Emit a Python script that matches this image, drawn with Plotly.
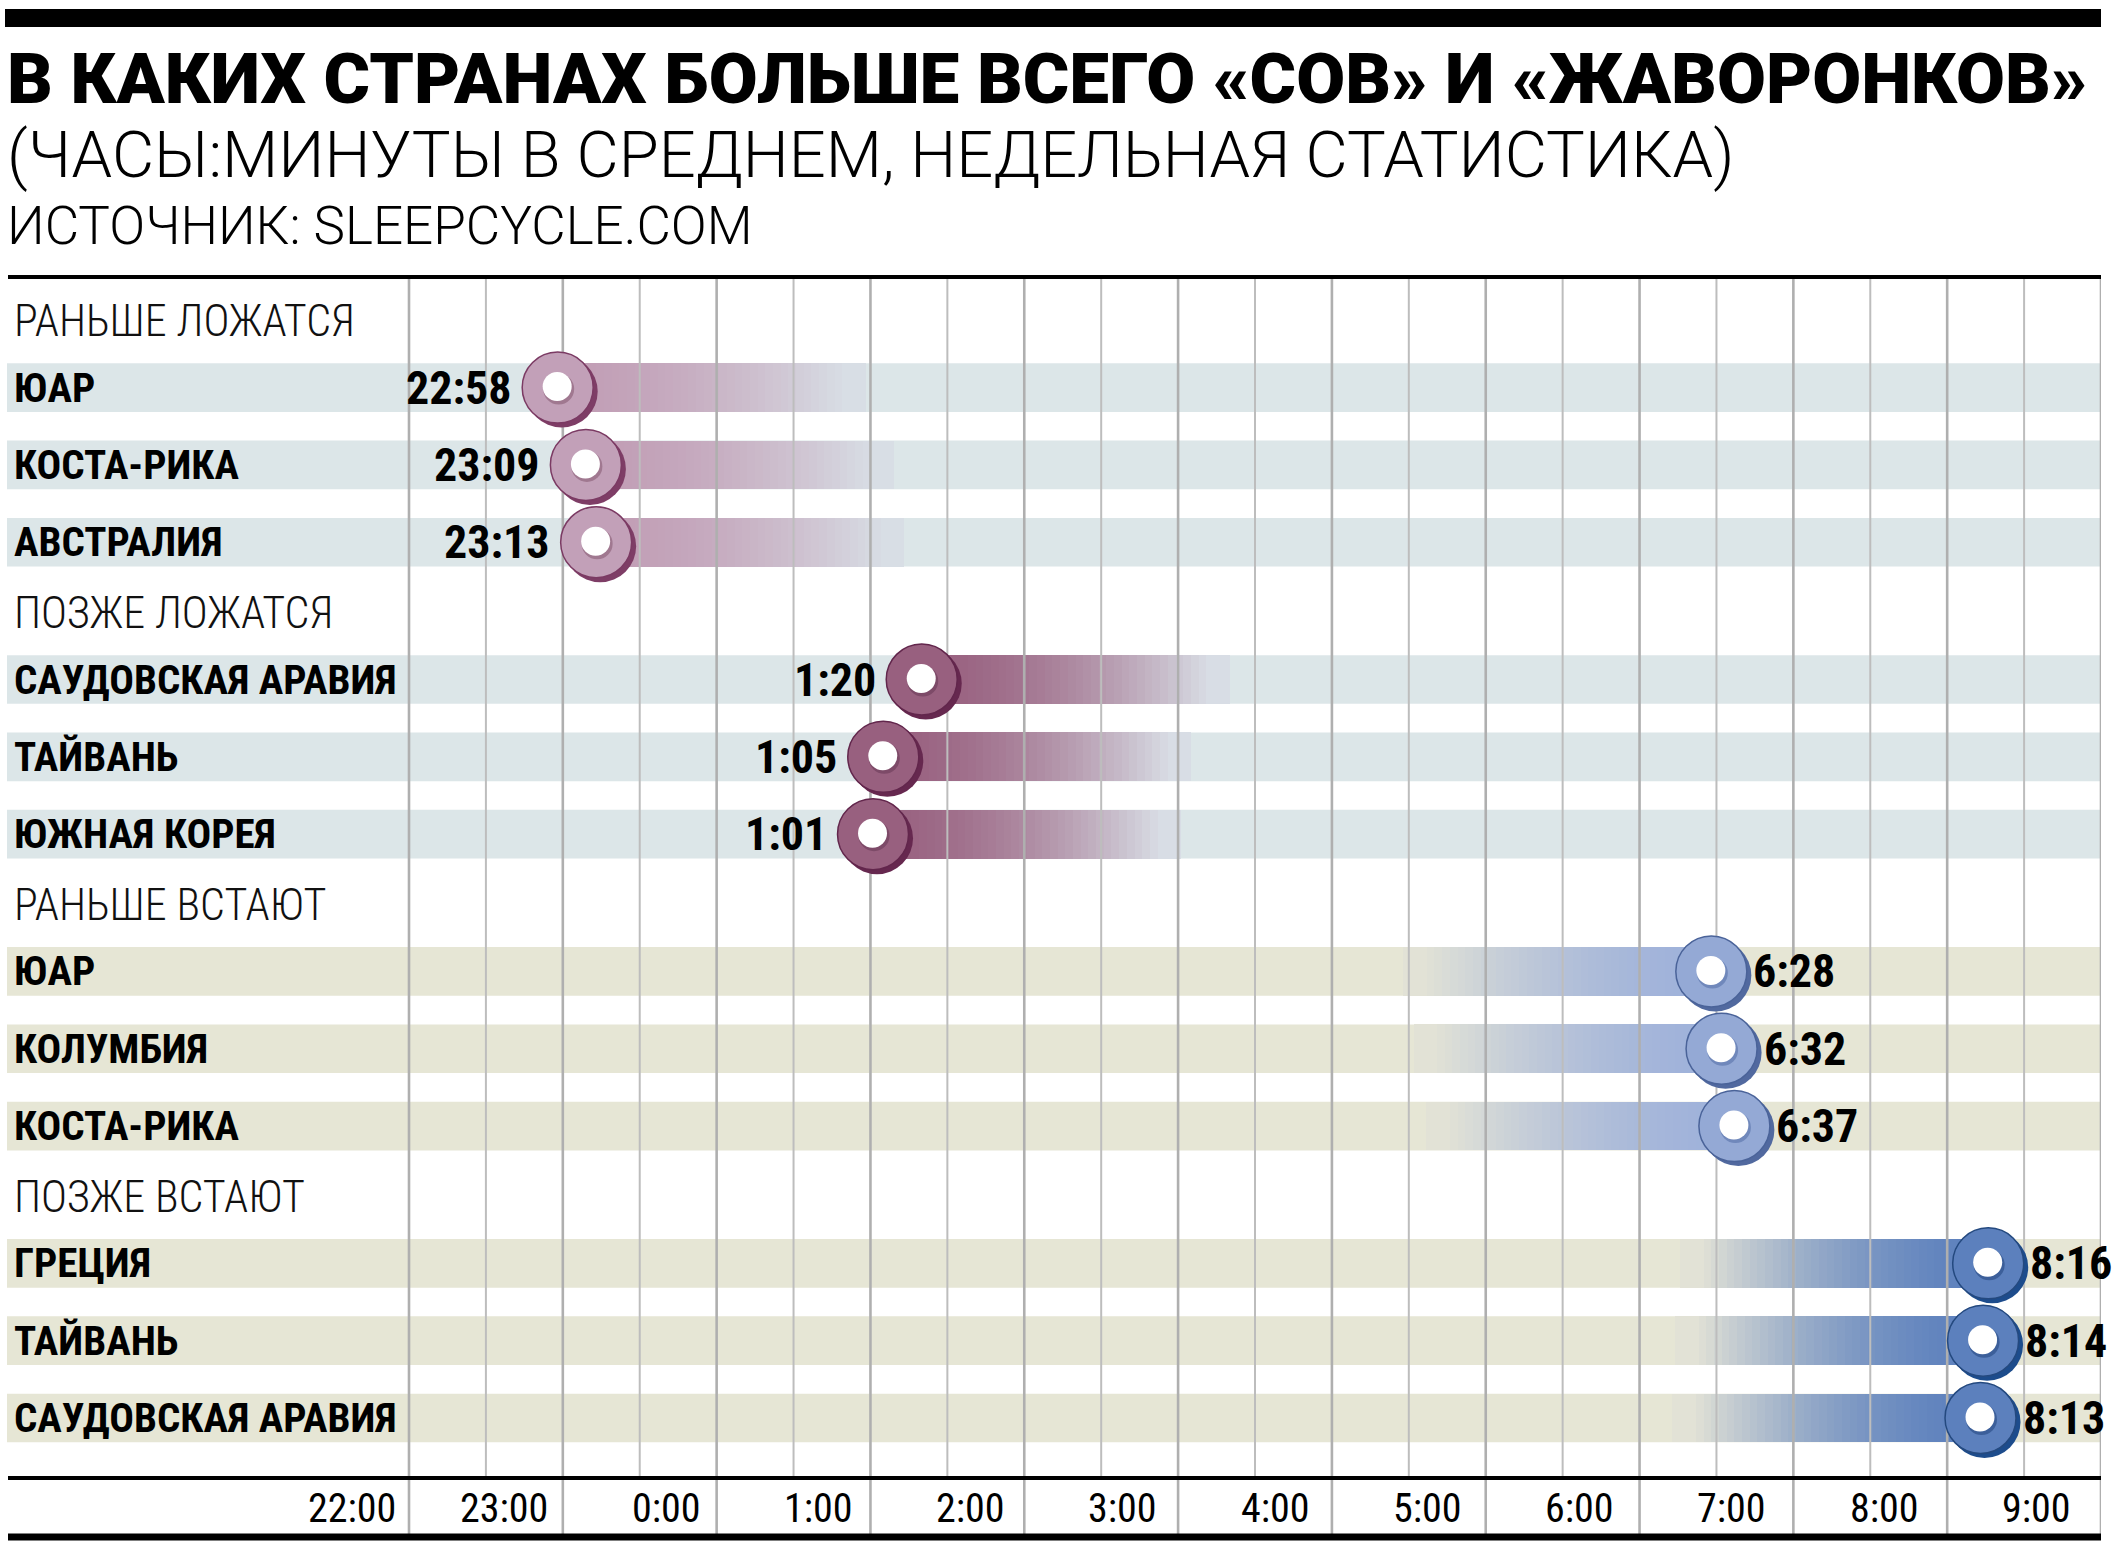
import plotly.graph_objects as go

# ---------------- DATA ----------------
group_titles = ["РАНЬШЕ ЛОЖАТСЯ", "ПОЗЖЕ ЛОЖАТСЯ", "РАНЬШЕ ВСТАЮТ", "ПОЗЖЕ ВСТАЮТ"]
early_bed_countries = ["ЮАР", "КОСТА-РИКА", "АВСТРАЛИЯ"]
early_bed_times = ["22:58", "23:09", "23:13"]
late_bed_countries = ["САУДОВСКАЯ АРАВИЯ", "ТАЙВАНЬ", "ЮЖНАЯ КОРЕЯ"]
late_bed_times = ["1:20", "1:05", "1:01"]
early_wake_countries = ["ЮАР", "КОЛУМБИЯ", "КОСТА-РИКА"]
early_wake_times = ["6:28", "6:32", "6:37"]
late_wake_countries = ["ГРЕЦИЯ", "ТАЙВАНЬ", "САУДОВСКАЯ АРАВИЯ"]
late_wake_times = ["8:16", "8:14", "8:13"]
hour_ticks = list(range(22, 34))          # 22:00 ... 9:00 (next day)
tick_labels = [f"{h % 24}:00" for h in hour_ticks]

title = "В КАКИХ СТРАНАХ БОЛЬШЕ ВСЕГО «СОВ» И «ЖАВОРОНКОВ»"
subtitle = "(ЧАСЫ:МИНУТЫ В СРЕДНЕМ, НЕДЕЛЬНАЯ СТАТИСТИКА)"
source = "ИСТОЧНИК: SLEEPCYCLE.COM"

# ---------------- STYLE ----------------
W, H = 2116, 1552
PL, PR, PT, PB = 7, 2101, 277, 1478
X22_PX = 409
PX_PER_H = (PR - X22_PX) / 11.0
PX_PER_U = 77.33
Y_MAX = (PB - PT) / PX_PER_U

FC = "Roboto Condensed, Open Sans Condensed, sans-serif"
FW = "Roboto, Open Sans, sans-serif"

groups = [
    dict(countries=early_bed_countries, times=early_bed_times, kind="bed",
         band="#dce6e8", fill="#c2a0b8", bar=(193, 157, 181), end=(216, 222, 229),
         edge="#7b3a63", shadow="#7e3d66", hole="#a07890"),
    dict(countries=late_bed_countries, times=late_bed_times, kind="bed",
         band="#dce6e8", fill="#98607f", bar=(152, 96, 127), end=(216, 221, 229),
         edge="#62264c", shadow="#66284f", hole="#7d4a68"),
    dict(countries=early_wake_countries, times=early_wake_times, kind="wake",
         band="#e6e6d5", fill="#94a9d5", bar=(158, 177, 218), end=(226, 226, 214),
         edge="#4a6399", shadow="#51699f", hole="#7088bb"),
    dict(countries=late_wake_countries, times=late_wake_times, kind="wake",
         band="#e6e6d5", fill="#5c80bd", bar=(92, 128, 189), end=(226, 226, 214),
         edge="#24497f", shadow="#1d4c8c", hole="#3c5f9a"),
]


def to_hours(s):
    h, m = s.split(":")
    h, m = int(h), int(m)
    return h + m / 60.0 + (24 if h < 12 else 0)


def paper_y(px):
    return (PB - px) / (PB - PT)


def paper_x(px):
    return (px - PL) / (PR - PL)


fig = go.Figure()
shapes = []
annotations = []

rows = []
for g, grp in enumerate(groups):
    y0 = 1.43 + g * 3.775
    annotations.append(dict(x=paper_x(12), xref="paper", y=y0 - 0.86, yref="y", text=group_titles[g],
                            showarrow=False, xanchor="left", yanchor="middle",
                            font=dict(family=FC, size=44, color="#111", weight=300)))
    for j, (c, t) in enumerate(zip(grp["countries"], grp["times"])):
        y = y0 + j
        rows.append((y, to_hours(t), g, c, t))
        shapes.append(dict(type="rect", xref="paper", yref="y", x0=0, x1=1, y0=y - 0.315, y1=y + 0.315,
                           fillcolor=grp["band"], line=dict(width=0), layer="below"))

# gradient bars (opaque colour steps)
N = 40
L = 2.0
seg = L / N
for k in range(N):
    t = k / (N - 1)
    f = min(1.0, 0.15 * t + 0.95 * t ** 1.8)
    ys, xs, bases, cols = [], [], [], []
    for (y, v, g, c, tt) in rows:
        grp = groups[g]
        ys.append(y)
        xs.append(seg * 1.05)
        bases.append(v + k * seg if grp["kind"] == "bed" else v - (k + 1.05) * seg)
        col = [round(a + (b - a) * f) for a, b in zip(grp["bar"], grp["end"])]
        cols.append(f"rgb({col[0]},{col[1]},{col[2]})")
    fig.add_trace(go.Bar(orientation="h", y=ys, x=xs, base=bases, width=0.63,
                         marker=dict(color=cols, line=dict(width=0)), hoverinfo="skip", showlegend=False))

# grid lines (above bars, below markers)
for major, width, color in [(False, 2, "#bdbdbd"), (True, 2.6, "#afafaf")]:
    gx, gy = [], []
    h = 22.0
    while h <= 33.0001:
        is_major = abs(h - round(h)) < 1e-6
        if is_major == major:
            gx += [h, h, None]
            gy += [0, Y_MAX, None]
        h += 0.5
    fig.add_trace(go.Scatter(x=gx, y=gy, mode="lines", line=dict(color=color, width=width),
                             hoverinfo="skip", showlegend=False, cliponaxis=False))

# markers (disc with shadow and hole)
dxp = 4 / PX_PER_H
dyp = 4 / PX_PER_U
for g, grp in enumerate(groups):
    gr = [r for r in rows if r[2] == g]
    xs = [r[1] for r in gr]
    ys = [r[0] for r in gr]
    fig.add_trace(go.Scatter(x=[x + dxp for x in xs], y=[y + dyp for y in ys], mode="markers",
                             marker=dict(size=72, color=grp["shadow"], line=dict(width=0)),
                             hoverinfo="skip", showlegend=False))
    fig.add_trace(go.Scatter(x=xs, y=ys, mode="markers",
                             marker=dict(size=71, color=grp["fill"], line=dict(width=1.5, color=grp["edge"])),
                             hoverinfo="skip", showlegend=False))
    fig.add_trace(go.Scatter(x=[x + 1 / PX_PER_H for x in xs], y=[y + 1.5 / PX_PER_U for y in ys], mode="markers",
                             marker=dict(size=31, color=grp["hole"], line=dict(width=0)),
                             hoverinfo="skip", showlegend=False))
    fig.add_trace(go.Scatter(x=[x - 0.5 / PX_PER_H for x in xs], y=[y - 1 / PX_PER_U for y in ys], mode="markers",
                             marker=dict(size=29, color="white", line=dict(width=0)),
                             hoverinfo="skip", showlegend=False))

# value labels and country labels
for (y, v, g, c, t) in rows:
    bed = groups[g]["kind"] == "bed"
    annotations.append(dict(x=v, xref="x", y=y, yref="y", text=f"<b>{t}</b>", showarrow=False,
                            xanchor="right" if bed else "left", xshift=-44 if bed else 40, yanchor="middle",
                            font=dict(family=FC, size=46, color="#000")))
    annotations.append(dict(x=paper_x(12), xref="paper", y=y, yref="y", text=f"<b>{c}</b>", showarrow=False,
                            xanchor="left", yanchor="middle", font=dict(family=FC, size=41, color="#000")))

# tick labels (below the axis line, left of each hour line)
for i, (h, lab) in enumerate(zip(hour_ticks, tick_labels)):
    annotations.append(dict(x=h, xref="x", y=paper_y(1508), yref="paper", text=lab, showarrow=False,
                            xanchor="right", xshift=-(11 + 17 * i / 11), yanchor="middle",
                            font=dict(family=FC, size=40, color="#000")))
    shapes.append(dict(type="line", xref="x", yref="paper", x0=h, x1=h, y0=paper_y(1536), y1=0,
                       line=dict(color="#afafaf", width=2.6), layer="below"))

# frame lines
shapes += [
    dict(type="rect", xref="paper", yref="paper", x0=paper_x(5), x1=1, y0=paper_y(27), y1=paper_y(9),
         fillcolor="#000", line=dict(width=0)),
    dict(type="line", xref="paper", yref="paper", x0=paper_x(8), x1=1, y0=1, y1=1, line=dict(color="#000", width=4)),
    dict(type="line", xref="paper", yref="paper", x0=paper_x(8), x1=1, y0=0, y1=0, line=dict(color="#000", width=4)),
    dict(type="line", xref="paper", yref="paper", x0=paper_x(8), x1=1, y0=paper_y(1537), y1=paper_y(1537),
         line=dict(color="#000", width=7)),
]

# titles
annotations += [
    dict(x=paper_x(6), xref="paper", y=paper_y(79), yref="paper", text=title, showarrow=False,
         xanchor="left", yanchor="middle", borderpad=0, font=dict(family=FW, size=71, color="#000", weight=900)),
    dict(x=paper_x(6), xref="paper", y=paper_y(155), yref="paper", text=subtitle, showarrow=False,
         xanchor="left", yanchor="middle", borderpad=0, font=dict(family=FW, size=65, color="#000", weight=300)),
    dict(x=paper_x(6), xref="paper", y=paper_y(226), yref="paper", text=source, showarrow=False,
         xanchor="left", yanchor="middle", borderpad=0, font=dict(family=FW, size=53, color="#000", weight=300)),
]

fig.update_layout(
    width=W, height=H, margin=dict(l=PL, r=W - PR, t=PT, b=H - PB),
    paper_bgcolor="white", plot_bgcolor="white", barmode="overlay", bargap=0,
    xaxis=dict(range=[22 - (X22_PX - PL) / PX_PER_H, 33], showgrid=False, zeroline=False,
               showticklabels=False, ticks="", fixedrange=True),
    yaxis=dict(range=[Y_MAX, 0], showgrid=False, zeroline=False, showticklabels=False, ticks="",
               fixedrange=True),
    shapes=shapes, annotations=annotations, showlegend=False,
)

fig.write_html("out.html")
